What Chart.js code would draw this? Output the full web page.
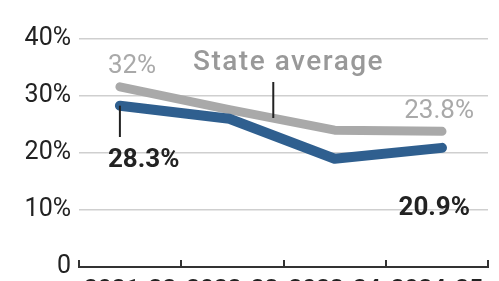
<!DOCTYPE html>
<html>
<head>
<meta charset="utf-8">
<script src="https://cdn.jsdelivr.net/npm/chart.js@4"></script>
<style>
  html, body { margin: 0; padding: 0; background: #fff; overflow: hidden; }
  #wrap { width: 499px; height: 310px; }
</style>
</head>
<body>
<div id="wrap"><canvas id="rate-chart" width="499" height="310"></canvas></div>
<script>
// data
const seasons = ["2021-22", "2022-23", "2023-24", "2024-25"];
const districtRate = [28.3, 26.0, 19.0, 20.9];
const stateRate = [31.6, 27.6, 24.0, 23.8];
const pointPos = [0.4, 1.47, 2.5, 3.55];   // where each season's point sits on the x scale
const yTicks = [0, 10, 20, 30, 40];

const blue = '#2f5f8f';
const grey = '#a9a9a9';
const ink = '#222';

function toPoints(values) {
  return values.map((v, i) => ({ x: pointPos[i], y: v }));
}

// little upward tick marks on the x axis + the labels and leader lines
const notes = {
  id: 'notes',
  afterDatasetsDraw(chart) {
    const ctx = chart.ctx;
    const xs = chart.scales.x;
    const ys = chart.scales.y;
    const bottom = chart.chartArea.bottom;
    ctx.save();

    // tick marks
    ctx.strokeStyle = '#333';
    ctx.lineWidth = 2;
    for (let i = 0; i <= seasons.length; i++) {
      const x = Math.round(xs.getPixelForValue(i));
      ctx.beginPath();
      ctx.moveTo(x, bottom);
      ctx.lineTo(x, bottom - 7);
      ctx.stroke();
    }

    // leader lines
    ctx.strokeStyle = ink;
    ctx.lineWidth = 2;
    let x0 = xs.getPixelForValue(pointPos[0]);
    ctx.beginPath();
    ctx.moveTo(x0, ys.getPixelForValue(districtRate[0]));
    ctx.lineTo(x0, 137);
    ctx.stroke();
    let xa = xs.getPixelForValue(1.9);
    ctx.beginPath();
    ctx.moveTo(xa, 82);
    ctx.lineTo(xa, 118);
    ctx.stroke();

    // labels
    ctx.textBaseline = 'alphabetic';
    ctx.fillStyle = grey;
    ctx.font = '26px Roboto';
    ctx.textAlign = 'left';
    ctx.fillText(stateRate[0] >= 31.5 ? '32%' : stateRate[0] + '%', x0 - 12, 73);
    ctx.textAlign = 'right';
    ctx.fillText(stateRate[3] + '%', xs.getPixelForValue(pointPos[3]) + 32, 118);

    ctx.fillStyle = '#999';
    ctx.font = '500 28px Roboto';
    ctx.textAlign = 'left';
    ctx.letterSpacing = '1.5px';
    ctx.fillText('State average', 193, 70);
    ctx.letterSpacing = '0px';

    ctx.fillStyle = ink;
    ctx.font = 'bold 26px Roboto';
    ctx.textAlign = 'left';
    ctx.fillText(districtRate[0] + '%', x0 - 12, 167);
    ctx.textAlign = 'right';
    ctx.fillText(districtRate[3] + '%', xs.getPixelForValue(pointPos[3]) + 28, 215);

    ctx.restore();
  }
};

const rateCanvas = document.getElementById('rate-chart');
let rateChart = new Chart(rateCanvas, {
  type: 'line',
  data: {
    datasets: [{
      data: toPoints(districtRate),
      borderColor: blue,
      borderWidth: 10,
      pointRadius: 0,
      borderCapStyle: 'round',
      borderJoinStyle: 'round',
      order: 1
    }, {
      data: toPoints(stateRate),
      borderColor: grey,
      borderWidth: 9,
      pointRadius: 0,
      borderCapStyle: 'round',
      borderJoinStyle: 'round',
      order: 2
    }]
  },
  options: {
    responsive: false,
    animation: false,
    layout: { padding: { top: 39, right: 11, left: 0, bottom: 0 } },
    plugins: {
      legend: { display: false },
      tooltip: { enabled: false }
    },
    scales: {
      x: {
        type: 'linear',
        min: 0,
        max: seasons.length,
        afterBuildTicks: scale => {
          scale.ticks = seasons.map((s, i) => ({ value: i + 0.5 }));
        },
        afterFit: scale => { scale.height = 310 - 267; },
        grid: { display: false, drawTicks: false },
        border: { display: true, color: '#333', width: 2 },
        ticks: {
          autoSkip: false,
          maxRotation: 0,
          padding: 9,
          color: ink,
          font: { family: 'Roboto', size: 24, weight: 'bold' },
          callback: (v, i) => seasons[i]
        }
      },
      y: {
        min: 0,
        max: 40,
        afterBuildTicks: scale => {
          scale.ticks = yTicks.map(v => ({ value: v }));
        },
        afterFit: scale => { scale.width = 79; },
        grid: { color: '#cfcfcf', lineWidth: 1.5, drawTicks: false },
        border: { display: false },
        ticks: {
          padding: 8,
          color: ink,
          font: { family: 'Roboto', size: 25 },
          callback: v => v === 0 ? '0' : v + '%'
        }
      }
    }
  },
  plugins: [notes]
});
</script>
</body>
</html>
